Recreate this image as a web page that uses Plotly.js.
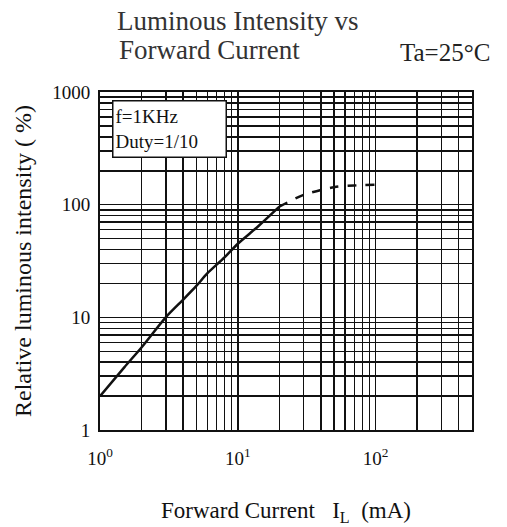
<!DOCTYPE html>
<html>
<head>
<meta charset="utf-8">
<script src="https://cdn.plot.ly/plotly-3.0.1.min.js"></script>
<style>html,body{margin:0;padding:0;background:#fff;}#chart{width:507px;height:527px;}</style>
</head>
<body>
<div id="chart"></div>
<script>
// Solid part of curve: forward current (mA) vs relative luminous intensity (%)
var solidCurrent   = [1, 1.5, 2, 3, 4, 5, 6, 8, 10, 14, 20];
var solidIntensity = [2, 3.6, 5.4, 10, 14.3, 19, 24.5, 34, 45, 64, 96];
// Dashed (extrapolated) part
var dashCurrent    = [20, 30, 50, 70, 100];
var dashIntensity  = [96, 122, 143, 148, 150];

var xTickVals   = [1, 10, 100];
var xTickLabels = ['10<sup>0</sup>', '10<sup>1</sup>', '10<sup>2</sup>'];
var yTickVals   = [1, 10, 100, 1000];
var yTickLabels = ['1', '10', '100', '1000'];

// minor grid values 2..9 per decade
function minorVals(maxDecade, maxVal) {
  var v = [];
  for (var d = 0; d <= maxDecade; d++) {
    for (var m = 2; m <= 9; m++) {
      var val = m * Math.pow(10, d);
      if (val <= maxVal) v.push(val);
    }
  }
  return v;
}
var xMinor = minorVals(2, 500);
var yMinor = minorVals(2, 1000);

var serif = 'Liberation Serif, Times New Roman, serif';

var traces = [
  {x: solidCurrent, y: solidIntensity, mode: 'lines', type: 'scatter',
   line: {color: '#111', width: 2.5, shape: 'spline', smoothing: 0.8}, hoverinfo: 'skip'},
  {x: dashCurrent, y: dashIntensity, mode: 'lines', type: 'scatter',
   line: {color: '#111', width: 2.5, dash: 'dash', shape: 'spline', smoothing: 0.8}, hoverinfo: 'skip'}
];

var layout = {
  width: 507, height: 527,
  margin: {l: 100, r: 35, t: 92, b: 97},
  paper_bgcolor: '#fff', plot_bgcolor: '#fff',
  showlegend: false,
  font: {family: serif, color: '#111'},
  title: {text: 'Luminous Intensity vs', x: 117/507, xanchor: 'left',
          y: 1 - 21/527, yanchor: 'middle', font: {family: serif, size: 27, color: '#333'}},
  xaxis: {
    type: 'log', range: [0, Math.log10(500)],
    tickvals: xTickVals, ticktext: xTickLabels,
    ticks: '', showgrid: true, gridcolor: '#111', gridwidth: 1.5,
    minor: {tickvals: xMinor, ticks: '', showgrid: true, gridcolor: '#111', gridwidth: 1.5},
    showline: true, linecolor: '#111', linewidth: 2, mirror: true,
    zeroline: false, ticklabelstandoff: 10,
    tickfont: {family: serif, size: 19, color: '#111'},
    title: {text: 'Forward Current&nbsp;&nbsp; I<sub>L</sub>&nbsp; (mA)', standoff: 34,
            font: {family: serif, size: 23, color: '#111'}}
  },
  yaxis: {
    type: 'log', range: [0, 3],
    tickvals: yTickVals, ticktext: yTickLabels,
    ticks: '', showgrid: true, gridcolor: '#111', gridwidth: 1.5,
    minor: {tickvals: yMinor, ticks: '', showgrid: true, gridcolor: '#111', gridwidth: 1.5},
    showline: true, linecolor: '#111', linewidth: 2, mirror: true,
    zeroline: false, ticklabelstandoff: 4,
    tickfont: {family: serif, size: 19, color: '#111'},
    title: {text: 'Relative luminous intensity ( %)', standoff: 14,
            font: {family: serif, size: 24, color: '#111'}}
  },
  annotations: [
    {xref: 'paper', yref: 'paper', x: 17/372, y: 1 + (92-50)/338, xanchor: 'left', yanchor: 'middle',
     text: 'Forward Current', showarrow: false, font: {family: serif, size: 27, color: '#333'}},
    {xref: 'paper', yref: 'paper', x: 12/372, y: 1 - 8/338, xanchor: 'left', yanchor: 'top',
     text: 'f=1KHz<br>Duty=1/10', align: 'left', showarrow: false,
     width: 108, height: 51, bgcolor: '#fff', bordercolor: '#111', borderwidth: 1.5, borderpad: 2,
     font: {family: serif, size: 19, color: '#111'}},
    {xref: 'paper', yref: 'paper', x: (398-100)/372, y: 1 + (92-53)/338, xanchor: 'left', yanchor: 'middle',
     text: 'Ta=25°C', showarrow: false, font: {family: serif, size: 25, color: '#222'}}
  ]
};

Plotly.newPlot('chart', traces, layout, {staticPlot: true, displayModeBar: false});
</script>
</body>
</html>
